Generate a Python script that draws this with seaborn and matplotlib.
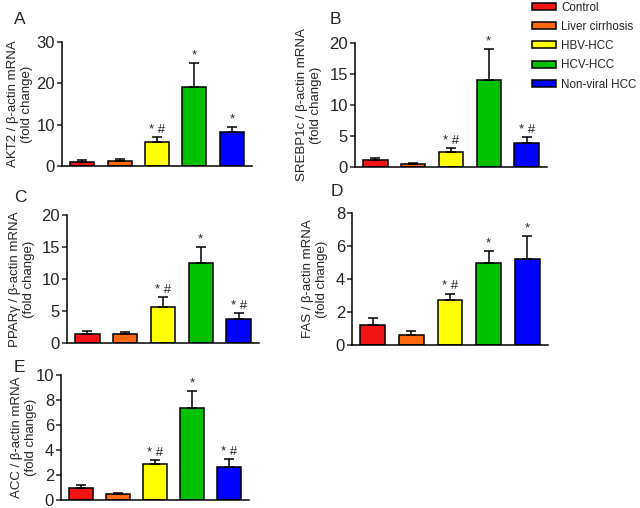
"""
Expresión de genes lipogénicos por grupo (paneles A-E).
"""

import matplotlib
matplotlib.use("Agg")
import matplotlib.pyplot as plt
from matplotlib.patches import Patch
import pandas as pd
import seaborn as sns

# =========================
# Datos
# =========================

grupos = ["Control", "Liver cirrhosis", "HBV-HCC", "HCV-HCC", "Non-viral HCC"]
colores = ["#f01414", "#ff6a10", "#ffff00", "#00c000", "#0000ff"]

akt2_media = [1.0, 1.3, 5.8, 19.1, 8.3]
akt2_error = [0.45, 0.4, 1.2, 5.9, 1.1]
akt2_marcas = ["", "", "* #", "*", "*"]

srebp_media = [1.05, 0.5, 2.5, 14.0, 3.85]
srebp_error = [0.45, 0.2, 0.5, 5.0, 1.0]
srebp_marcas = ["", "", "* #", "*", "* #"]

ppar_media = [1.37, 1.42, 5.6, 12.5, 3.75]
ppar_error = [0.5, 0.32, 1.6, 2.5, 0.95]
ppar_marcas = ["", "", "* #", "*", "* #"]

fas_media = [1.2, 0.6, 2.7, 5.0, 5.2]
fas_error = [0.45, 0.22, 0.42, 0.72, 1.42]
fas_marcas = ["", "", "* #", "*", "*"]

acc_media = [0.95, 0.47, 2.92, 7.4, 2.64]
acc_error = [0.24, 0.12, 0.28, 1.3, 0.64]
acc_marcas = ["", "", "* #", "*", "* #"]

sns.set_style("ticks")
plt.rcParams["font.family"] = ["Liberation Sans", "DejaVu Sans"]

W, H = 640, 508
fig = plt.figure(figsize=(W / 100, H / 100), dpi=100)


# --------------------------------------------------------
# Panel de barras con error superior
# --------------------------------------------------------

def dibujar_panel(caja, letra, pos_letra, ylabel, media, error, marcas,
                  ylim, yticks, off_label):
    izq, arriba, der, abajo = caja
    ax = fig.add_axes([izq / W, 1 - abajo / H, (der - izq) / W, (abajo - arriba) / H])
    df = pd.DataFrame({"grupo": grupos, "valor": media})
    sns.barplot(data=df, x="grupo", y="valor", hue="grupo", palette=colores,
                saturation=1, width=0.64, edgecolor="black", linewidth=1.1,
                errorbar=None, legend=False, ax=ax)
    ax.errorbar(range(len(grupos)), media, yerr=[[0] * len(grupos), error],
                fmt="none", ecolor="black", elinewidth=1.1, capsize=3.8, capthick=1.1)
    for i, m in enumerate(marcas):
        if m:
            ax.annotate(m, (i, media[i] + error[i]), xytext=(0, 1),
                        textcoords="offset points", ha="center", va="bottom",
                        fontsize=9.5)
    ax.set_xlim(-0.54, 4.54)
    ax.set_ylim(*ylim)
    ax.set_yticks(yticks)
    ax.set_xticks([])
    ax.set_xlabel("")
    ax.set_ylabel(ylabel, fontsize=9.5, linespacing=1.2)
    ax.yaxis.set_label_coords(-off_label / (der - izq), 0.5)
    ax.tick_params(axis="y", labelsize=12, length=3.5, width=1.1, pad=1.5)
    for s in ["left", "bottom"]:
        ax.spines[s].set_linewidth(1.1)
        ax.spines[s].set_color("black")
    sns.despine(ax=ax)
    fig.text(pos_letra[0] / W, 1 - pos_letra[1] / H, letra, ha="center",
             va="center", fontsize=12.5)
    return ax


dibujar_panel((62, 42, 252, 166), "A", (20, 20),
              "AKT2 / β-actin mRNA\n(fold change)",
              akt2_media, akt2_error, akt2_marcas, (0, 30), [0, 10, 20, 30], 29)
dibujar_panel((355, 43, 547, 167), "B", (335, 20),
              "SREBP1c / β-actin mRNA\n(fold change)",
              srebp_media, srebp_error, srebp_marcas, (0, 20), [0, 5, 10, 15, 20], 33)
dibujar_panel((67, 215, 259, 343), "C", (20, 197),
              "PPARγ / β-actin mRNA\n(fold change)",
              ppar_media, ppar_error, ppar_marcas, (0, 20), [0, 5, 10, 15, 20], 32)
dibujar_panel((352, 213, 548, 345), "D", (337, 192),
              "FAS / β-actin mRNA\n(fold change)",
              fas_media, fas_error, fas_marcas, (0, 8), [0, 2, 4, 6, 8], 24)
dibujar_panel((61, 375, 249, 500), "E", (19, 368),
              "ACC / β-actin mRNA\n(fold change)",
              acc_media, acc_error, acc_marcas, (0, 10), [0, 2, 4, 6, 8, 10], 24)

# Leyenda
manejadores = [Patch(facecolor=c, edgecolor="black", linewidth=1.1) for c in colores]
fig.legend(manejadores, grupos, loc="upper left", bbox_to_anchor=(531 / W, 1 - 1 / H),
           frameon=False, fontsize=8.4, handlelength=2.1, handleheight=0.55,
           handletextpad=0.45, labelspacing=0.62, borderpad=0.05, borderaxespad=0)

fig.savefig("out.png", dpi=100)
